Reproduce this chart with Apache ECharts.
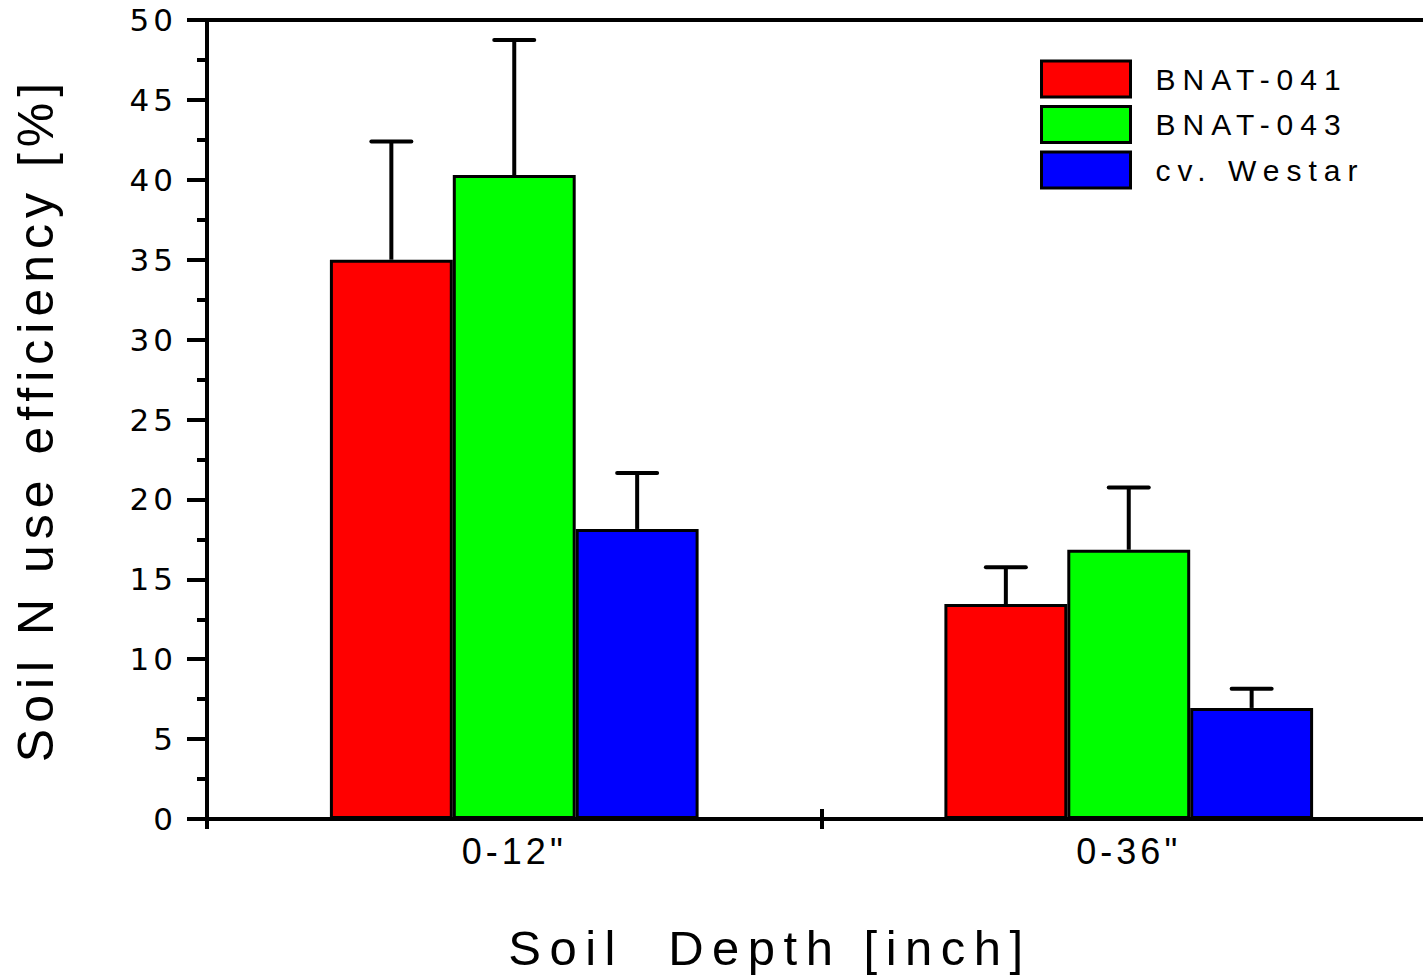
<!DOCTYPE html>
<html>
<head>
<meta charset="utf-8">
<script src="https://cdn.jsdelivr.net/npm/echarts@6/dist/echarts.min.js"></script>
<style>
  html, body { margin: 0; padding: 0; background: #fff; overflow: hidden; }
  body { width: 1423px; height: 977px; }
  #chart { width: 1440px; height: 977px; }
  #chart svg text { white-space: pre; }
  #chart svg text[style*="31px"] { letter-spacing: 4px; }
  #chart svg text[style*="36px"] { letter-spacing: 4px; }
  #chart svg text[style*="30px"] { letter-spacing: 7px; }
  #chart svg text[style*="50px"] { letter-spacing: 6px; }
  #chart svg text[style*="49px"] { letter-spacing: 8.5px; }
</style>
</head>
<body>
<div id="chart"></div>
<script>
// ---- data ----
const categories = ['0-12"', '0-36"'];
const seriesNames = ['BNAT-041', 'BNAT-043', 'cv. Westar'];
const seriesColors = ['#ff0000', '#00ff00', '#0000ff'];
const bnat041 = [35.0, 13.45];
const bnat043 = [40.3, 16.85];
const westar = [18.15, 6.95];
const bnat041Err = [7.4, 2.3];
const bnat043Err = [8.45, 3.9];
const westarErr = [3.5, 1.2];
const yMin = 0, yMax = 50, yInterval = 5;
const yTitle = 'Soil N use efficiency [%]';
const xTitle = 'Soil  Depth [inch]';

const values = [bnat041, bnat043, westar];
const errors = [bnat041Err, bnat043Err, westarErr];
const nSeries = values.length;
const catGap = 0.4;

const chart = echarts.init(document.getElementById('chart'), null, { renderer: 'svg' });

const barSeries = seriesNames.map((name, i) => ({
  name: name,
  type: 'bar',
  data: values[i],
  barGap: '0%',
  barCategoryGap: (catGap * 100) + '%',
  itemStyle: { color: seriesColors[i], borderColor: '#000', borderWidth: 3 },
  z: 2
}));

const errSeries = seriesNames.map((name, i) => ({
  type: 'custom',
  name: name + ' err',
  z: 3,
  silent: true,
  data: values[i].map((v, c) => [c, v, errors[i][c]]),
  renderItem: function (params, api) {
    const ci = api.value(0), v = api.value(1), e = api.value(2);
    const band = api.size([1, 0])[0];
    const barW = band * (1 - catGap) / nSeries;
    const off = (i - (nSeries - 1) / 2) * barW;
    const base = api.coord([ci, v]);
    const top = api.coord([ci, v + e]);
    const x = base[0] + off;
    const capHalf = 20;
    return {
      type: 'group',
      children: [
        { type: 'line', shape: { x1: x, y1: base[1], x2: x, y2: top[1] },
          style: { stroke: '#000', lineWidth: 4 } },
        { type: 'line', shape: { x1: x - capHalf, y1: top[1], x2: x + capHalf, y2: top[1] },
          style: { stroke: '#000', lineWidth: 4, lineCap: 'round' } }
      ]
    };
  }
}));

chart.setOption({
  animation: false,
  backgroundColor: '#fff',
  grid: {
    left: 207, top: 20, bottom: 158, right: 4,
    show: true, borderColor: '#000', borderWidth: 4, backgroundColor: 'transparent'
  },
  legend: {
    data: seriesNames,
    left: 1040, top: 59.5, orient: 'vertical',
    itemWidth: 89, itemHeight: 36, itemGap: 6.5,
    padding: 0,
    selectedMode: false,
    icon: 'rect',
    itemStyle: { borderColor: '#000', borderWidth: 3 },
    textStyle: { fontSize: 30, lineHeight: 30, fontFamily: 'Liberation Sans', color: '#000', padding: [0, 0, 0, 20] }
  },
  xAxis: [
    {
      type: 'category', data: categories, position: 'bottom',
      axisLine: { lineStyle: { color: '#000', width: 4 } },
      axisTick: { show: true, length: 10, lineStyle: { color: '#000', width: 4 } },
      axisLabel: { fontSize: 36, fontFamily: 'Liberation Sans', color: '#000', margin: 14 },
      splitLine: { show: false }
    },
    {
      type: 'category', data: categories, position: 'bottom',
      axisLine: { show: false },
      axisTick: { show: true, inside: true, length: 10, lineStyle: { color: '#000', width: 4 } },
      axisLabel: { show: false },
      splitLine: { show: false }
    }
  ],
  yAxis: {
    type: 'value', min: yMin, max: yMax, interval: yInterval,
    name: yTitle, nameLocation: 'middle', nameGap: 146,
    nameTextStyle: { fontSize: 50, fontFamily: 'Liberation Sans', color: '#000' },
    axisLine: { show: true, lineStyle: { color: '#000', width: 4 } },
    axisTick: { show: true, length: 20, lineStyle: { color: '#000', width: 4 } },
    minorTick: { show: true, splitNumber: 2, length: 10, lineStyle: { color: '#000', width: 4 } },
    axisLabel: { fontSize: 31, fontFamily: 'DejaVu Sans', color: '#000', margin: 30 },
    splitLine: { show: false }
  },
  graphic: [{
    type: 'text', x: 770, y: 948, silent: true,
    style: {
      text: xTitle, fontSize: 49, fontFamily: 'Liberation Sans', fill: '#000',
      align: 'center', verticalAlign: 'middle', textAlign: 'center', textVerticalAlign: 'middle'
    }
  }],
  series: barSeries.concat(errSeries)
});
</script>
</body>
</html>
